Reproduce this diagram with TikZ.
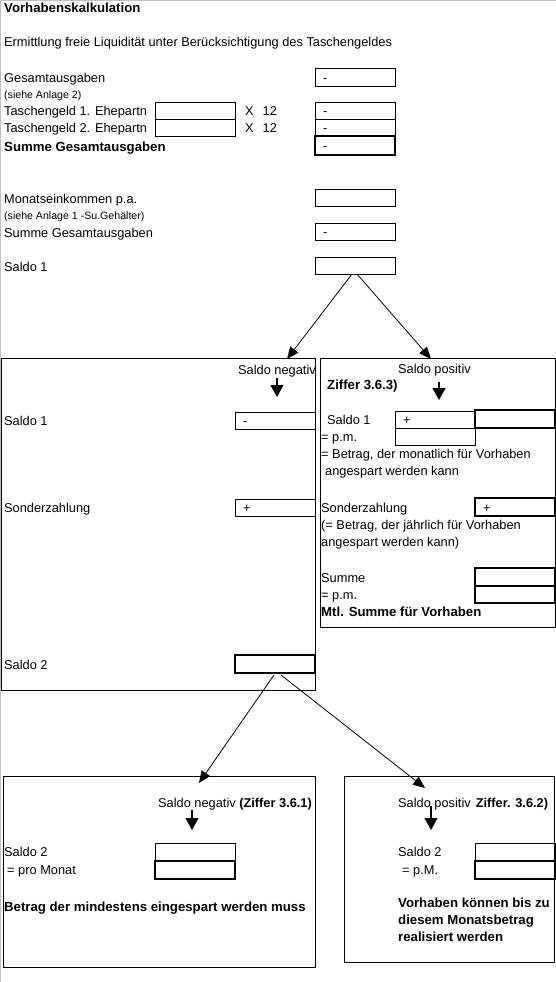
\documentclass[tikz,border=0pt]{standalone}
\usepackage{fontspec}
\setmainfont{Liberation Sans}
\usepackage{tikz}
\usetikzlibrary{arrows.meta, positioning}
\definecolor{framegray}{HTML}{C0C0C0}
\newcommand{\regfnt}{\fontsize{12.8}{15}\selectfont}
\newcommand{\boldfnt}{\fontsize{13.2}{17}\selectfont\bfseries}
\newcommand{\smallfnt}{\fontsize{10.6}{12}\selectfont}
\tikzstyle{cell} = [rectangle, draw, anchor=north west, minimum width=80pt, minimum height=17pt,
  inner xsep=8pt, inner ysep=0pt, text width=64pt, text height=11pt, text depth=1pt,
  align=left, outer sep=0pt, line width=1pt, font=\regfnt]
\tikzstyle{sumcell} = [cell, line width=2.2pt, minimum height=18pt]
\tikzstyle{lbl} = [anchor=base west, inner sep=0pt, font=\regfnt]
\tikzstyle{boldlbl} = [lbl, font=\boldfnt]
\tikzstyle{smalllbl} = [lbl, font=\smallfnt]
\tikzstyle{panel} = [rectangle, draw, anchor=north west, inner sep=0pt, outer sep=0pt, line width=1pt]
\tikzstyle{arrow} = [line width=0.8pt, -{Triangle[length=12pt,width=10pt]}]
\tikzstyle{downarrow} = [line width=1.2pt, -{Triangle[length=12pt,width=13pt]}]

\begin{document}
\begin{tikzpicture}[x=1pt, y=-1pt]
  \useasboundingbox (0,0) rectangle (556,982);
  \draw[framegray, line width=1pt] (0.5,982) -- (0.5,0.5) -- (556,0.5);

  \node (title) [boldlbl] at (4,13) {Vorhabenskalkulation};
  \node (intro) [lbl] at (4,47) {Ermittlung freie Liquidität unter Berücksichtigung des Taschengeldes};

  \node (gesL)  [lbl] at (4,82) {Gesamtausgaben};
  \node (gesN)  [smalllbl] at (4,98) {(siehe Anlage 2)};
  \node (ges)   [cell] at (315,69) {-};
  \node (tg1L)  [lbl] at (4,115) {Taschengeld 1. Ehepartn};
  \node (tg1)   [cell] at (155,102) {};
  \node (tg1x)  [lbl] at (245,115) {X\hspace{9pt}12};
  \node (tg1r)  [cell] at (315,102) {-};
  \node (tg2L)  [lbl] at (4,132) {Taschengeld 2. Ehepartn};
  \node (tg2)   [cell, below=0pt of tg1] {};
  \node (tg2x)  [lbl] at (245,132) {X\hspace{9pt}12};
  \node (tg2r)  [cell, below=0pt of tg1r] {-};
  \node (sumL)  [boldlbl] at (4,151) {Summe Gesamtausgaben};
  \node (sum)   [sumcell, minimum height=19pt] at (315,136) {-};

  \node (monL)  [lbl] at (4,203) {Monatseinkommen p.a.};
  \node (monN)  [smalllbl] at (4,219) {(siehe Anlage 1 -Su.Gehälter)};
  \node (mon)   [cell] at (315,189) {};
  \node (sum2L) [lbl] at (4,237) {Summe Gesamtausgaben};
  \node (sum2)  [cell] at (315,223) {-};
  \node (saldoL)[lbl] at (4,271) {Saldo 1};
  \node (saldo) [cell] at (315,257) {};

  % Saldo negativ
  \node (negP)  [panel, minimum width=314pt, minimum height=332pt] at (1,358) {};
  \node (negT)  [lbl] at (238,374) {Saldo negativ};
  \coordinate (negA) at (277,378);
  \draw[downarrow] (negA) -- ++(0,19);
  \node (negS1L)[lbl] at (4,425) {Saldo 1};
  \node (negS1) [cell] at (235,412) {-};
  \node (negSoL)[lbl] at (4,512) {Sonderzahlung};
  \node (negSo) [cell] at (235,499) {+};
  \node (negS2L)[lbl] at (4,669) {Saldo 2};
  \node (negS2) [sumcell] at (235,655) {};

  % Saldo positiv
  \node (posP)  [panel, minimum width=235pt, minimum height=269pt] at (320.5,358) {};
  \node (posT)  [lbl] at (398,373) {Saldo positiv};
  \node (posZ)  [boldlbl] at (327,389) {Ziffer 3.6.3)};
  \coordinate (posA) at (439,382);
  \draw[downarrow] (posA) -- ++(0,18);
  \node (posS1L)[lbl] at (327,424) {Saldo 1};
  \node (posS1) [cell] at (395,411) {+};
  \node (posS1b)[sumcell] at (475,410) {};
  \node (posPmL)[lbl] at (321,441) {= p.m.};
  \node (posPm) [cell, below=0pt of posS1] {};
  \node (posB1) [lbl] at (321,458) {= Betrag, der monatlich für Vorhaben};
  \node (posB2) [lbl] at (325,475) {angespart werden kann};
  \node (posSoL)[lbl] at (321,512) {Sonderzahlung};
  \node (posSo) [sumcell] at (475,498) {+};
  \node (posB3) [lbl] at (321,529) {(= Betrag, der jährlich für Vorhaben};
  \node (posB4) [lbl] at (321,546) {angespart werden kann)};
  \node (posSuL)[lbl] at (321,582) {Summe};
  \node (posSu) [sumcell] at (475,568) {};
  \node (posSpL)[lbl] at (321,599) {= p.m.};
  \node (posSp) [cell, line width=1.6pt] at (475,586) {};
  \node (posM)  [boldlbl] at (321,616) {Mtl. Summe für Vorhaben};

  % Saldo 2 negativ
  \node (n2P)   [panel, minimum width=311.5pt, minimum height=191pt] at (3.5,776) {};
  \node (n2T)   [lbl] at (158,807) {Saldo negativ \textbf{(Ziffer 3.6.1)}};
  \coordinate (n2A) at (192,810);
  \draw[downarrow] (n2A) -- ++(0,20);
  \node (n2S2L) [lbl] at (4,856) {Saldo 2};
  \node (n2S2)  [cell] at (155,843) {};
  \node (n2PmL) [lbl] at (7,874) {= pro Monat};
  \node (n2Pm)  [sumcell] at (155,861) {};
  \node (n2M)   [boldlbl] at (4,911) {Betrag der mindestens eingespart werden muss};

  % Saldo 2 positiv
  \node (p2P)   [panel, minimum width=210pt, minimum height=186pt] at (344.5,776) {};
  \node (p2T)   [lbl] at (398,807) {Saldo positiv\hspace{5pt}\textbf{Ziffer. 3.6.2)}};
  \coordinate (p2A) at (431,806);
  \draw[downarrow] (p2A) -- ++(0,24);
  \node (p2S2L) [lbl] at (398,856) {Saldo 2};
  \node (p2S2)  [cell] at (475,843) {};
  \node (p2PmL) [lbl] at (402,874) {= p.M.};
  \node (p2Pm)  [sumcell] at (475,861) {};
  \node (p2M)   [boldlbl, align=left, anchor=north west, font=\boldfnt\linespread{1}] at (398,898)
    {Vorhaben können bis zu\\diesem Monatsbetrag\\realisiert werden};

  \coordinate (negTip) at (287,359);
  \coordinate (posTip) at (431,359);
  \coordinate (n2Tip) at (199,783);
  \coordinate (p2Tip) at (425,788);
  \draw[arrow] ([xshift=-3pt]saldo.south) -- (negTip);
  \draw[arrow] ([xshift=2pt]saldo.south) -- (posTip);
  \draw[arrow] ([xshift=-1pt,yshift=-2pt]negS2.south) -- (n2Tip);
  \draw[arrow] ([xshift=6pt,yshift=-2pt]negS2.south) -- (p2Tip);
\end{tikzpicture}
\end{document}
